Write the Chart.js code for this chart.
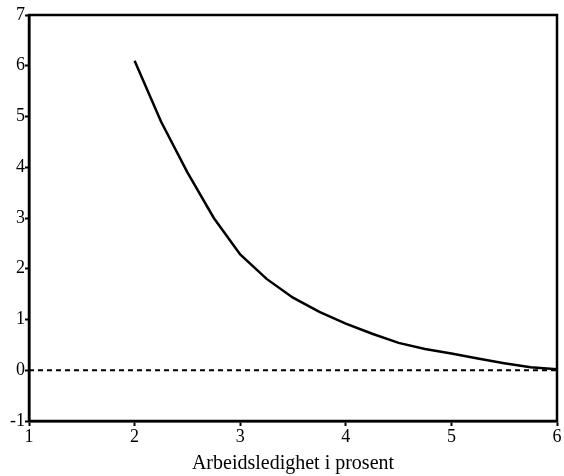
<!DOCTYPE html>
<html>
<head>
<meta charset="utf-8">
<script src="https://cdn.jsdelivr.net/npm/chart.js@4/dist/chart.umd.min.js"></script>
<style>
  html, body { margin: 0; padding: 0; background: #fff; }
  #wrap { width: 564px; height: 476px; }
</style>
</head>
<body>
<div id="wrap"><canvas id="chart"></canvas></div>
<script>
// Unemployment rate (x) and curve values (y)
const unemployment = [2, 2.25, 2.5, 2.75, 3, 3.25, 3.5, 3.75, 4, 4.25, 4.5, 4.75, 5, 5.25, 5.5, 5.75, 6];
const curveValues = [6.1, 4.9, 3.9, 3.0, 2.28, 1.8, 1.43, 1.15, 0.92, 0.72, 0.54, 0.42, 0.33, 0.23, 0.14, 0.06, 0.02];
const zeroLineX = [1, 6];
const zeroLineY = [0, 0];
const xTicks = [1, 2, 3, 4, 5, 6];
const yTicks = [-1, 0, 1, 2, 3, 4, 5, 6, 7];

const serif = "'Liberation Serif', 'Times New Roman', serif";

// Frame around the plot area
const framePlugin = {
    id: 'frame',
    afterDraw(chart) {
        const a = chart.chartArea;
        const ctx = chart.ctx;
        ctx.save();
        ctx.strokeStyle = '#000';
        ctx.lineWidth = 2.5;
        ctx.strokeRect(a.left, a.top, a.right - a.left, a.bottom - a.top);
        ctx.restore();
    }
};

new Chart(document.getElementById('chart'), {
    type: 'scatter',
    data: {
        datasets: [
            {
                data: zeroLineX.map((x, i) => ({ x: x, y: zeroLineY[i] })),
                showLine: true,
                borderColor: '#000',
                borderWidth: 2,
                borderDash: [5, 4],
                pointRadius: 0
            },
            {
                data: unemployment.map((x, i) => ({ x: x, y: curveValues[i] })),
                showLine: true,
                borderColor: '#000',
                borderWidth: 2.5,
                pointRadius: 0
            }
        ]
    },
    options: {
        responsive: true,
        maintainAspectRatio: false,
        animation: false,
        layout: { padding: { top: 15, right: 7, left: 0, bottom: 0 } },
        plugins: {
            legend: { display: false },
            tooltip: { enabled: false }
        },
        scales: {
            x: {
                type: 'linear',
                min: 1,
                max: 6,
                afterBuildTicks: (s) => { s.ticks = xTicks.map(v => ({ value: v })); },
                afterFit: (s) => { s.height = 55; },
                ticks: {
                    color: '#000',
                    font: { family: serif, size: 18 },
                    padding: 0
                },
                grid: { drawOnChartArea: false, drawTicks: true, tickLength: 5, tickColor: '#000', tickWidth: 2 },
                border: { display: true, color: '#000', width: 2.5 },
                title: {
                    display: true,
                    text: 'Arbeidsledighet i prosent',
                    color: '#000',
                    font: { family: serif, size: 20 },
                    padding: { top: 1, bottom: 0 }
                }
            },
            y: {
                type: 'linear',
                min: -1,
                max: 7,
                afterBuildTicks: (s) => { s.ticks = yTicks.map(v => ({ value: v })); },
                afterFit: (s) => { s.width = 29; },
                ticks: {
                    color: '#000',
                    font: { family: serif, size: 18 },
                    padding: 0
                },
                grid: { drawOnChartArea: false, drawTicks: true, tickLength: 4, tickColor: '#000', tickWidth: 2 },
                border: { display: true, color: '#000', width: 2.5 }
            }
        }
    },
    plugins: [framePlugin]
});
</script>
</body>
</html>
